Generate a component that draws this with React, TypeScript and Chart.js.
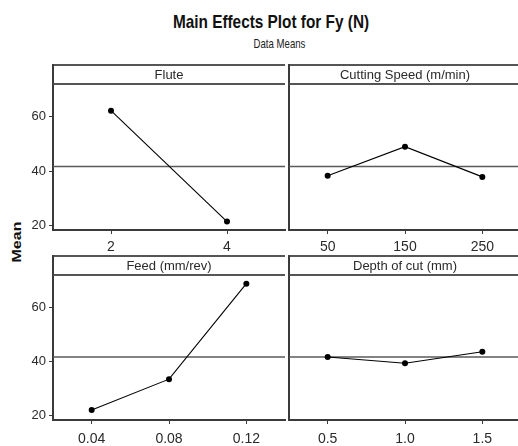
import React, { useEffect, useRef } from "react";
import { Chart, registerables } from "chart.js";

Chart.register(...registerables);

// ---- data ----
const fluteLevels = ["2", "4"];
const fluteMeans = [62.2, 21.5];
const speedLevels = ["50", "150", "250"];
const speedMeans = [38.3, 49.0, 37.9];
const feedLevels = ["0.04", "0.08", "0.12"];
const feedMeans = [22.1, 33.5, 68.8];
const depthLevels = ["0.5", "1.0", "1.5"];
const depthMeans = [41.7, 39.4, 43.6];
const grandMean = 41.7;
const yTicks = [20, 40, 60];
const yMin = 18.4;
const yMax = 72;

const FONT = '"Liberation Sans", Arial, sans-serif';
const FRAME = "#555555";
const AXIS = "#3a3a3a";
const TEXT = "#2a2a2a";
const STRIP_H = 20;

const stripPlugin = {
  id: "strip",
  afterDraw(chart: any, _args: any, opts: any) {
    const { ctx, chartArea: ca } = chart;
    const top = ca.top - STRIP_H;
    ctx.save();
    ctx.strokeStyle = FRAME;
    ctx.lineWidth = 2;
    ctx.beginPath();
    ctx.moveTo(ca.left, top + 1);
    ctx.lineTo(ca.right, top + 1);
    ctx.moveTo(ca.left, ca.top);
    ctx.lineTo(ca.right, ca.top);
    ctx.stroke();
    ctx.strokeStyle = AXIS;
    ctx.beginPath();
    ctx.moveTo(ca.left, top);
    ctx.lineTo(ca.left, ca.top);
    ctx.stroke();
    ctx.fillStyle = TEXT;
    ctx.font = `13px ${FONT}`;
    ctx.textAlign = "center";
    ctx.textBaseline = "middle";
    ctx.fillText(opts.text, (ca.left + ca.right) / 2, top + STRIP_H / 2 + 1);
    ctx.restore();
  },
};

const refLinePlugin = {
  id: "refLine",
  beforeDatasetsDraw(chart: any, _args: any, opts: any) {
    const { ctx, chartArea: ca } = chart;
    const y = chart.scales.y.getPixelForValue(opts.value);
    ctx.save();
    ctx.strokeStyle = "#5a5a5a";
    ctx.lineWidth = 1.5;
    ctx.beginPath();
    ctx.moveTo(ca.left, y);
    ctx.lineTo(ca.right, y);
    ctx.stroke();
    ctx.restore();
  },
};

type PanelProps = {
  labels: string[];
  values: number[];
  strip: string;
  showY: boolean;
  left: number;
  top: number;
  width: number;
  height: number;
  yAxisWidth: number;
  xAxisHeight: number;
  xPad: number;
};

function Panel(p: PanelProps) {
  const ref = useRef<HTMLCanvasElement>(null);
  useEffect(() => {
    const chart = new Chart(ref.current as HTMLCanvasElement, {
      type: "line",
      data: {
        labels: p.labels,
        datasets: [
          {
            data: p.values,
            borderColor: "#000",
            borderWidth: 1.1,
            pointRadius: 3,
            pointBackgroundColor: "#000",
            pointBorderColor: "#000",
            pointBorderWidth: 0,
            tension: 0,
            clip: false as any,
          },
        ],
      },
      options: {
        responsive: false,
        animation: false,
        devicePixelRatio: 1,
        layout: { padding: { top: STRIP_H, left: 0, right: 0, bottom: 0 } },
        plugins: {
          legend: { display: false },
          tooltip: { enabled: false },
          strip: { text: p.strip },
          refLine: { value: grandMean },
        } as any,
        scales: {
          x: {
            type: "category",
            offset: true,
            grid: {
              display: true,
              drawOnChartArea: false,
              drawTicks: true,
              tickLength: 4,
              offset: false,
              color: AXIS,
              lineWidth: 1,
            },
            border: { display: true, color: AXIS, width: 2 },
            ticks: {
              color: TEXT,
              font: { family: FONT, size: 14 },
              padding: p.xPad,
              maxRotation: 0,
              autoSkip: false,
            },
            afterFit: (s: any) => {
              s.height = p.xAxisHeight;
            },
          },
          y: {
            type: "linear",
            min: yMin,
            max: yMax,
            afterBuildTicks: (s: any) => {
              s.ticks = yTicks.map((v) => ({ value: v }));
            },
            grid: {
              display: p.showY,
              drawOnChartArea: false,
              drawTicks: true,
              tickLength: 4,
              color: AXIS,
              lineWidth: 1,
            },
            border: { display: true, color: AXIS, width: 2 },
            ticks: {
              display: p.showY,
              color: TEXT,
              font: { family: FONT, size: 13 },
              padding: 3,
            },
            afterFit: (s: any) => {
              s.width = p.yAxisWidth;
            },
          },
        },
      },
      plugins: [stripPlugin, refLinePlugin],
    });
    return () => chart.destroy();
  }, []);
  return (
    <canvas
      ref={ref}
      width={p.width}
      height={p.height}
      style={{ position: "absolute", left: p.left, top: p.top, width: p.width, height: p.height }}
    />
  );
}

export default function App() {
  return (
    <div
      style={{
        position: "absolute",
        left: 0,
        top: 0,
        width: 518,
        height: 446,
        overflow: "hidden",
        background: "#fff",
      }}
    >
      <div
        style={{
          position: "absolute",
          left: 0,
          top: 13,
          width: 542,
          textAlign: "center",
          font: `bold 18.5px/18px ${FONT}`,
          color: "#111",
          transform: "scaleX(0.83)",
        }}
      >
        Main Effects Plot for Fy (N)
      </div>
      <div
        style={{
          position: "absolute",
          left: 0,
          top: 37,
          width: 559,
          textAlign: "center",
          font: `13px/13px ${FONT}`,
          color: "#222",
          transform: "scaleX(0.74)",
        }}
      >
        Data Means
      </div>
      <div
        style={{
          position: "absolute",
          left: 17 - 30,
          top: 242 - 9,
          width: 60,
          height: 18,
          textAlign: "center",
          font: `bold 16px/18px ${FONT}`,
          color: "#111",
          transform: "rotate(-90deg) scaleY(0.75)",
        }}
      >
        Mean
      </div>
      <Panel labels={fluteLevels} values={fluteMeans} strip="Flute" showY={true}
        left={0} top={64} width={289} height={191} yAxisWidth={53} xAxisHeight={25} xPad={5} />
      <Panel labels={speedLevels} values={speedMeans} strip="Cutting Speed (m/min)" showY={false}
        left={279} top={64} width={246} height={191} yAxisWidth={10} xAxisHeight={25} xPad={5} />
      <Panel labels={feedLevels} values={feedMeans} strip="Feed (mm/rev)" showY={true}
        left={0} top={255} width={289} height={191} yAxisWidth={53} xAxisHeight={26} xPad={7} />
      <Panel labels={depthLevels} values={depthMeans} strip="Depth of cut (mm)" showY={false}
        left={279} top={255} width={246} height={191} yAxisWidth={10} xAxisHeight={26} xPad={7} />
    </div>
  );
}
